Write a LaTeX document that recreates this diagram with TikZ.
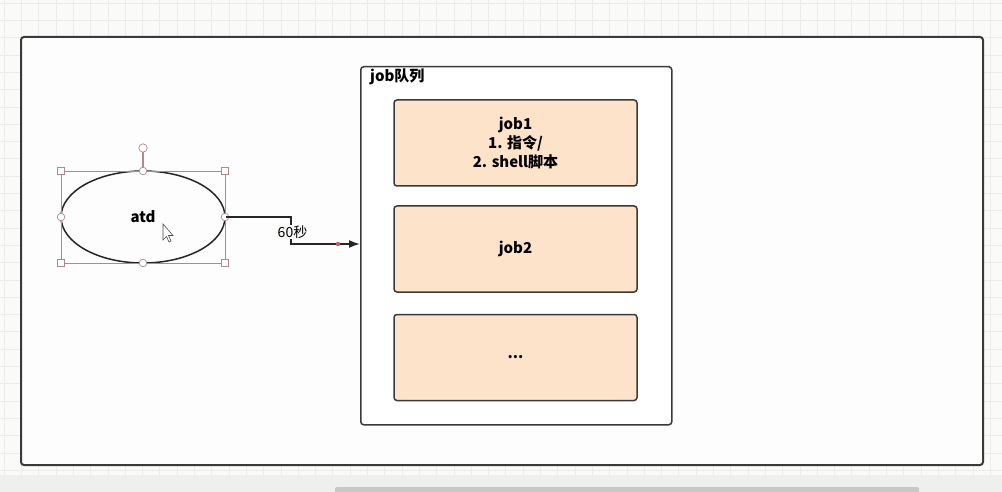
\documentclass[tikz,border=0pt]{standalone}
\usepackage{fontspec}
\setmainfont{Noto Sans CJK SC}
\usetikzlibrary{arrows.meta,shapes.geometric}
\definecolor{bgc}{HTML}{FAFBF9}
\definecolor{gridc}{HTML}{ECEDEB}
\definecolor{framec}{HTML}{3A3A3A}
\definecolor{peach}{HTML}{FDE3C9}
\definecolor{selc}{HTML}{B08A8A}
\definecolor{bandc}{HTML}{EFF0EE}
\definecolor{barc}{HTML}{C8C9C7}
\definecolor{dotc}{HTML}{E0506A}
\tikzset{
  outer/.style={draw=framec, line width=2pt, rounded corners=3pt, fill=white!60!bgc},
  queue/.style={draw=framec, line width=1.5pt, rounded corners=3pt, fill=white},
  jobbox/.style={draw=framec, line width=1.5pt, rounded corners=3pt, fill=peach, minimum width=243pt, minimum height=86pt, align=center, font=\bfseries\fontsize{15}{19}\selectfont},
  handle/.style={draw=selc, fill=white, line width=0.7pt},
  conn/.style={draw=black!85, line width=1.6pt},
}
\begin{document}
\begin{tikzpicture}[x=1pt,y=-1pt]
\useasboundingbox (0,0) rectangle (1002,492);
\fill[bgc] (0,0) rectangle (1002,492);
% grid
\foreach \i in {0,...,58} {\draw[gridc, line width=0.5pt] ({\i*17.3+4},0) -- ({\i*17.3+4},475);}
\foreach \j in {0,...,27} {\draw[gridc, line width=0.5pt] (0,{\j*17.3+3}) -- (1002,{\j*17.3+3});}
% bottom band and scrollbar
\fill[bandc] (0,475) rectangle (1002,492);
\fill[barc, rounded corners=2pt] (335,487) rectangle (919,494);
% outer frame
\node[outer, minimum width=962pt, minimum height=428pt, anchor=north west, inner sep=0pt] (frame) at (20,36) {};
% queue container
\node[queue, minimum width=311pt, minimum height=358pt, anchor=north west, inner sep=0pt] (queue) at (360,66) {};
\node[anchor=west, font=\bfseries\fontsize{15}{17}\selectfont, inner sep=0pt] (qtitle) at (370,77) {job队列};
% jobs
\node[jobbox] (job1) at (515.5,143) {job1\\1. 指令/\\2. shell脚本};
\node[jobbox] (job2) at (515.5,249) {job2};
\node[jobbox] (job3) at (515.5,357.5) {...};
% ellipse
\node[draw=black!85, line width=1.5pt, ellipse, minimum width=164pt, minimum height=92pt, inner sep=0pt, font=\bfseries\fontsize{15}{17}\selectfont] (atd) at (143,217) {atd};
% selection box
\draw[selc, line width=0.7pt] (61,171) rectangle (225,263);
\draw[selc, line width=1.2pt] (143,171) -- (143,152);
\coordinate (rot) at (143,148);
\draw[handle] (rot) circle (4.2pt);
\foreach \p in {(61,171),(225,171),(61,263),(225,263)} {\draw[handle] \p ++(-3.5,-3.5) rectangle ++(7,7);}
\foreach \p in {(143,171),(61,217),(225,217),(143,263)} {\draw[handle] \p circle (3.8pt);}
% cursor
\draw[black!70, fill=white, line width=0.6pt] (163,224) -- (163,240) -- (166.5,236.5) -- (169,242) -- (171,241) -- (168.5,235.5) -- (173,235.5) -- cycle;
% connector
\coordinate (bend1) at (291,217);
\coordinate (bend2) at (291,244);
\draw[conn, -{Latex[length=11pt,width=8pt]}] (atd.east) -- (bend1) -- (bend2) -- (queue.west |- bend2);
\node[fill=bgc, inner sep=1pt, font=\fontsize{14}{16}\selectfont] (lbl) at (292.5,232) {60秒};
\fill[dotc] (338,244) circle (2.2pt);
\end{tikzpicture}
\end{document}
